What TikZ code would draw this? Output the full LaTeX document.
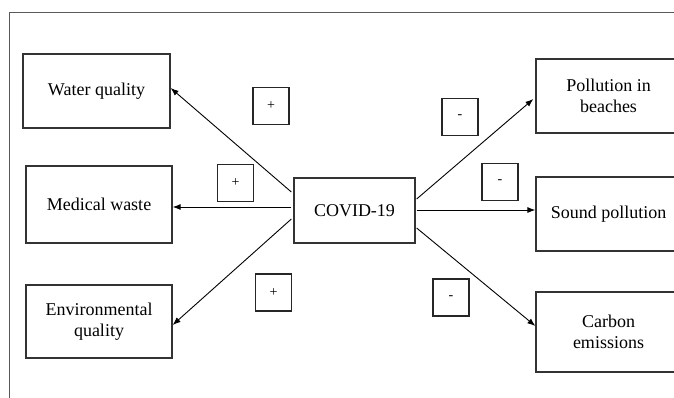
\documentclass[tikz,border=0pt]{standalone}
\usepackage{fontspec}
\setmainfont{Liberation Serif}
\usetikzlibrary{arrows.meta}
\begin{document}
\begin{tikzpicture}[x=1pt,y=-1pt,
  box/.style={draw=black!80,line width=1.3pt,inner sep=0pt,align=center,
    font=\fontsize{18}{21}\selectfont},
  sign/.style={draw=black!85,line width=1.3pt,minimum width=36pt,minimum height=37pt,
    inner sep=0pt,font=\fontsize{14}{16}\selectfont},
  arr/.style={line width=0.9pt,-{Latex[length=8pt,width=6pt]}}]
\useasboundingbox (0,0) rectangle (674,397);
\draw[black!65,line width=1pt] (9.5,400) -- (9.5,12.5) -- (680,12.5);
% left boxes
\node[box,minimum width=147pt,minimum height=74pt] (wq) at (96.5,91) {Water quality};
\node[box,minimum width=146pt,minimum height=77pt] (mw) at (99,204.5) {Medical waste};
\node[box,minimum width=146pt,minimum height=73pt] (eq) at (99,321.5) {Environmental\\quality};
% centre
\node[box,minimum width=121pt,minimum height=65pt] (cov) at (354.5,210.5) {COVID-19};
% right boxes
\node[box,minimum width=145pt,minimum height=74pt] (pb) at (608.5,96) {Pollution in\\beaches};
\node[box,minimum width=145pt,minimum height=74pt] (sp) at (608.5,214) {Sound pollution};
\node[box,minimum width=145pt,minimum height=80pt] (ce) at (608.5,332) {Carbon\\emissions};
% signs
\node[sign] (s1) at (271,106) {+};
\node[sign] (s2) at (235.5,183) {+};
\node[sign] (s3) at (273.5,292.5) {+};
\node[sign] (s4) at (460,117) {-};
\node[sign] (s5) at (500,182) {-};
\node[sign] (s6) at (451,297.5) {-};
% arrows
\draw[arr] ([xshift=-2pt,yshift=18.5pt]cov.west) -- ([yshift=3pt]wq.east);
\draw[arr] ([xshift=-2pt,yshift=3.5pt]cov.west) -- ([yshift=-2.5pt]mw.east);
\draw[arr] ([xshift=-2pt,yshift=-8.5pt]cov.west) -- ([yshift=-3.5pt]eq.east);
\draw[arr] ([xshift=1pt,yshift=11.5pt]cov.east) -- ([xshift=-2pt,yshift=-3pt]pb.west);
\draw[arr] ([xshift=1pt,yshift=0.5pt]cov.east) -- ([yshift=4pt]sp.west);
\draw[arr] ([xshift=1pt,yshift=-17.5pt]cov.east) -- ([yshift=6pt]ce.west);
\end{tikzpicture}
\end{document}
